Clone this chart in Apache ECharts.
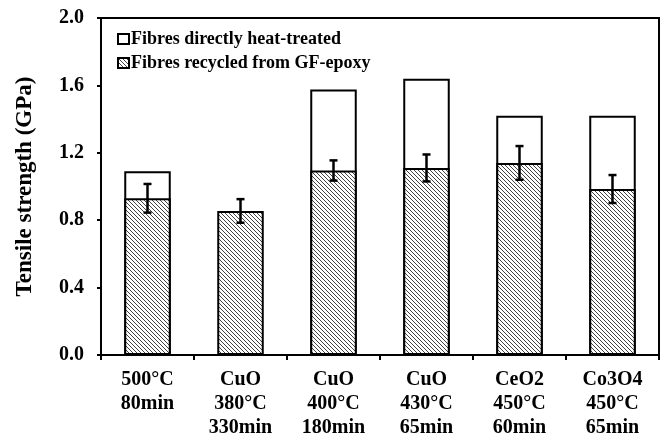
<!DOCTYPE html>
<html><head><meta charset="utf-8">
<script src="https://cdn.jsdelivr.net/npm/echarts@6/dist/echarts.min.js"></script>
<style>html,body{margin:0;padding:0;background:#fff}#c{width:665px;height:440px}</style>
</head><body><div id="c"></div>
<script>
var categories = ['500°C\n80min','CuO\n380°C\n330min','CuO\n400°C\n180min','CuO\n430°C\n65min','CeO2\n450°C\n60min','Co3O4\n450°C\n65min'];
var directValues = [1.09, null, 1.575, 1.64, 1.42, 1.42];
var recycledValues = [0.93, 0.855, 1.095, 1.11, 1.14, 0.985];
var recycledErrors = [0.085, 0.07, 0.06, 0.08, 0.1, 0.083];
var yTicks = {min: 0, max: 2.0, interval: 0.4};

function hatch() {
  var s = 4, c = document.createElement('canvas');
  c.width = s; c.height = s;
  var g = c.getContext('2d');
  g.fillStyle = '#fff'; g.fillRect(0,0,s,s);
  g.strokeStyle = '#444'; g.lineWidth = 1;
  g.beginPath();
  g.moveTo(0,0); g.lineTo(s,s);
  g.moveTo(-1,s-1); g.lineTo(1,s+1);
  g.moveTo(s-1,-1); g.lineTo(s+1,1);
  g.stroke();
  return {image: c, repeat: 'repeat'};
}
var font = '"Liberation Serif","Times New Roman",serif';
var chart = echarts.init(document.getElementById('c'), null, {renderer: 'canvas'});
var errData = recycledValues.map(function(v,i){ return [i, v - recycledErrors[i], v + recycledErrors[i]]; });
chart.setOption({
  animation: false,
  grid: {left: 101, right: 6, top: 18, bottom: 83, show: true, borderColor: '#000', borderWidth: 2},
  legend: {
    left: 112, top: 25, orient: 'vertical', itemGap: 6, itemWidth: 11, itemHeight: 10,
    textStyle: {fontFamily: font, fontWeight: 'bold', fontSize: 18, color: '#000', padding: [0,0,0,-3]},
    data: [{name: 'Fibres directly heat-treated', icon: 'rect'}, {name: 'Fibres recycled from GF-epoxy', icon: 'rect'}]
  },
  xAxis: {
    type: 'category', data: categories,
    axisLine: {lineStyle: {color: '#000', width: 2}},
    axisTick: {show: true, length: 5, lineStyle: {color: '#000', width: 2}},
    axisLabel: {fontFamily: font, fontWeight: 'bold', fontSize: 20, color: '#000', lineHeight: 24, margin: 13}
  },
  yAxis: {
    type: 'value', min: yTicks.min, max: yTicks.max, interval: yTicks.interval,
    name: 'Tensile strength (GPa)', nameLocation: 'middle', nameGap: 64,
    nameTextStyle: {fontFamily: font, fontWeight: 'bold', fontSize: 23, color: '#000'},
    splitLine: {show: false},
    axisLine: {show: true, lineStyle: {color: '#000', width: 2}},
    axisTick: {show: true, length: 4, lineStyle: {color: '#000', width: 2}},
    axisLabel: {fontFamily: font, fontWeight: 'bold', fontSize: 20, color: '#000', margin: 17,
      formatter: function(v){ return v.toFixed(1); }}
  },
  series: [
    {name: 'Fibres directly heat-treated', type: 'bar', data: directValues, barWidth: '50%', barGap: '-100%',
     itemStyle: {color: '#fff', borderColor: '#000', borderWidth: 2}},
    {name: 'Fibres recycled from GF-epoxy', type: 'bar', data: recycledValues, barWidth: '50%',
     itemStyle: {color: hatch(), borderColor: '#000', borderWidth: 2}},
    {type: 'custom', data: errData, z: 10,
     renderItem: function(params, api){
       var lo = api.coord([api.value(0), api.value(1)]);
       var hi = api.coord([api.value(0), api.value(2)]);
       var w = 4, st = {stroke: '#000', lineWidth: 2.5};
       return {type: 'group', children: [
         {type: 'line', shape: {x1: hi[0], y1: hi[1], x2: lo[0], y2: lo[1]}, style: st},
         {type: 'line', shape: {x1: hi[0]-w, y1: hi[1], x2: hi[0]+w, y2: hi[1]}, style: st},
         {type: 'line', shape: {x1: lo[0]-w, y1: lo[1], x2: lo[0]+w, y2: lo[1]}, style: st}
       ]};
     }}
  ]
});
</script></body></html>
